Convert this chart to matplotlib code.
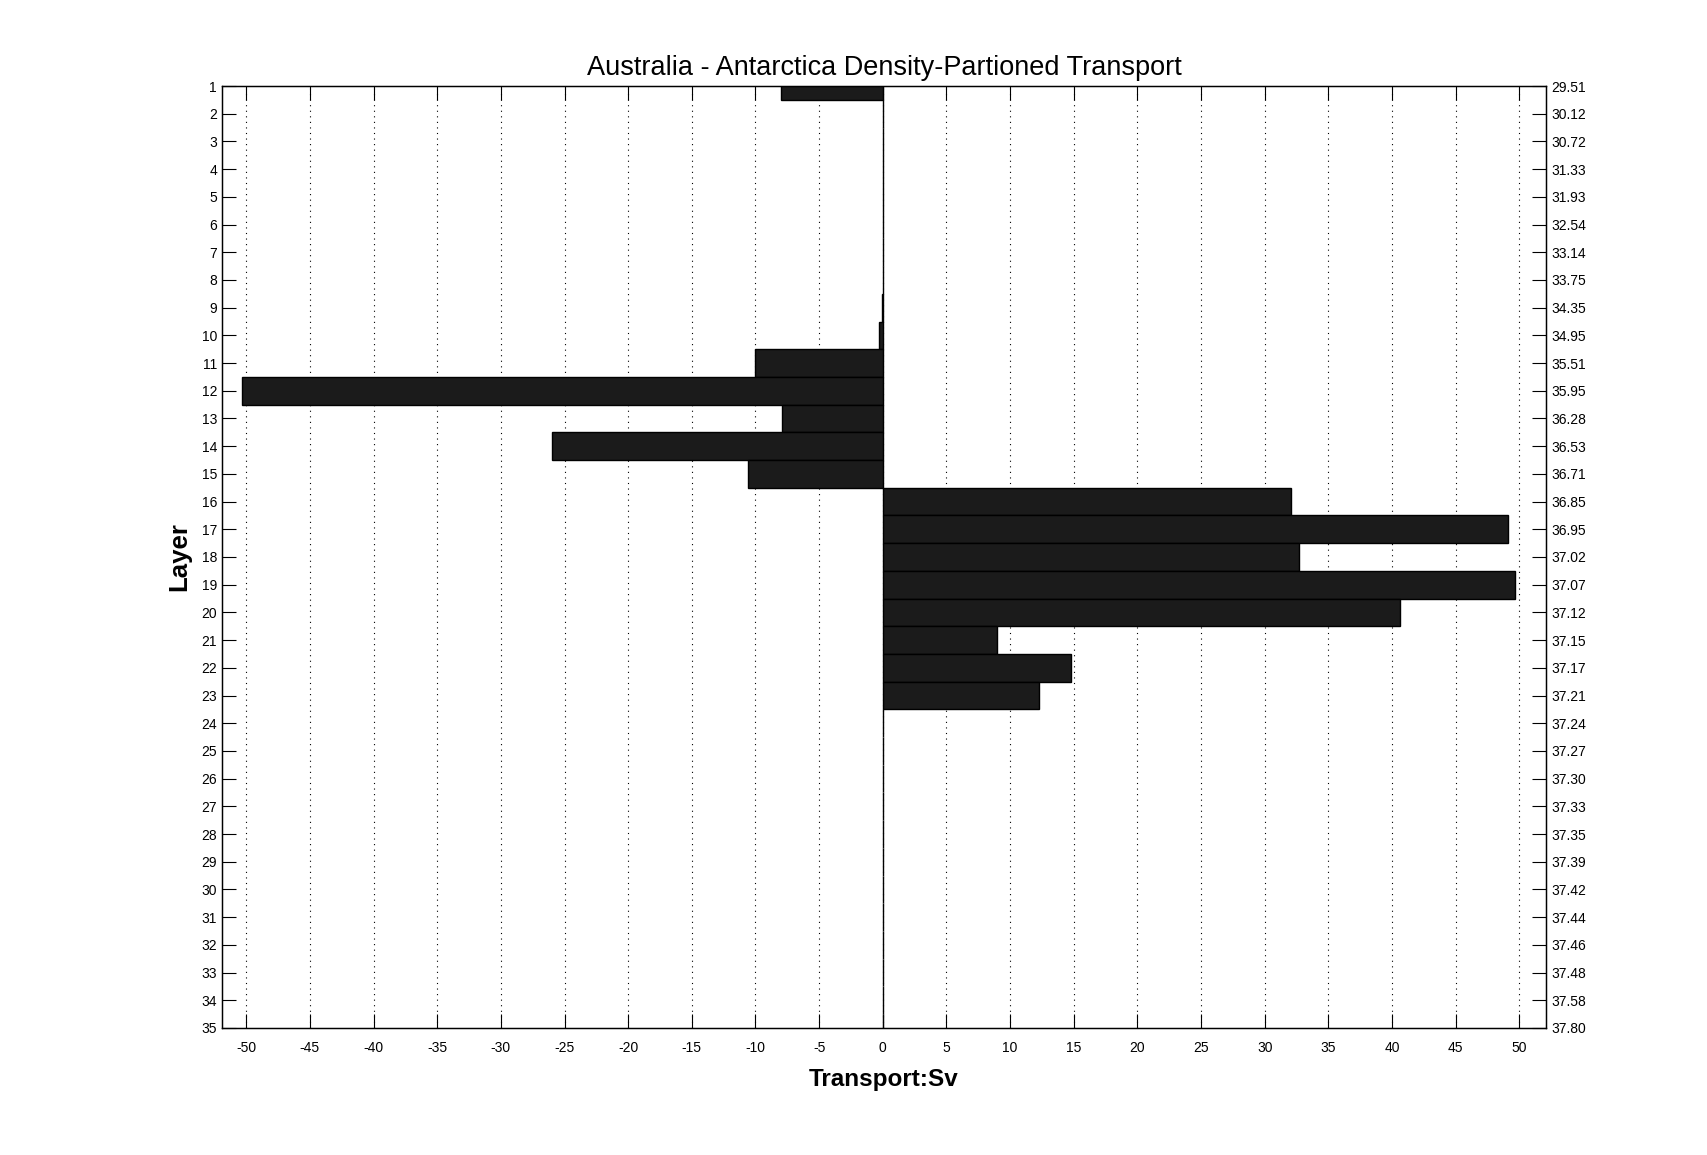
import matplotlib
matplotlib.use("Agg")
import matplotlib.pyplot as plt
import numpy as np

plt.rcParams["font.family"] = ["Liberation Sans", "DejaVu Sans"]

# layer index (1 = top) and net transport per layer, Sv
layers = list(range(1, 36))
transport = [-8.0, 0.0, 0.0, 0.0, 0.0, 0.0, 0.0, 0.0, -0.1, -0.33,
             -10.0, -50.3, -7.9, -26.0, -10.6, 32.1, 49.1, 32.7, 49.7, 40.6,
             9.0, 14.8, 12.3, 0.0, 0.0, 0.0, 0.0, 0.0, 0.0, 0.0,
             0.0, 0.0, 0.0, 0.0, 0.0]
# density of each layer interface, shown on the right axis
density_labels = ["29.51", "30.12", "30.72", "31.33", "31.93", "32.54", "33.14",
                  "33.75", "34.35", "34.95", "35.51", "35.95", "36.28", "36.53",
                  "36.71", "36.85", "36.95", "37.02", "37.07", "37.12", "37.15",
                  "37.17", "37.21", "37.24", "37.27", "37.30", "37.33", "37.35",
                  "37.39", "37.42", "37.44", "37.46", "37.48", "37.58", "37.80"]
xticks = list(range(-50, 55, 5))

fig = plt.figure(figsize=(17.07, 11.55), dpi=100)
ax = fig.add_axes([0.1301, 0.1100, 0.7756, 0.8155])

ax.barh(layers, transport, height=1.0, color="#1b1b1b", edgecolor="black",
        linewidth=1.0, zorder=2)

ax.set_xlim(-51.9, 52.1)
ax.set_ylim(35, 1)
ax.set_xticks(xticks)
ax.set_xticklabels([str(v) for v in xticks])
ax.set_yticks(layers)
ax.set_yticklabels([str(v) for v in layers])
ax.set_axisbelow(True)
ax.grid(axis="x", color="black", linestyle=(0, (1, 4)), linewidth=0.8)

for s in ax.spines.values():
    s.set_linewidth(1.0)
ax.tick_params(axis="x", direction="in", length=10, width=0.8, top=True,
               labelsize=10, pad=9.5)
ax.tick_params(axis="y", direction="in", length=10, width=0.8, right=False,
               labelsize=10, pad=3.6)

ax2 = ax.twinx()
ax2.set_ylim(35, 1)
ax2.set_yticks(layers)
ax2.set_yticklabels(density_labels)
ax2.tick_params(axis="y", direction="in", length=10, width=0.8, labelsize=10, pad=3.6)

ax.set_title("Australia - Antarctica Density-Partioned Transport", fontsize=19.5, pad=8)
ax.set_xlabel("Transport:Sv", fontsize=17.5, fontweight="bold", labelpad=9)
ax.set_ylabel("Layer", fontsize=18.5, fontweight="bold", labelpad=7)

fig.savefig("out.png", dpi=100)
